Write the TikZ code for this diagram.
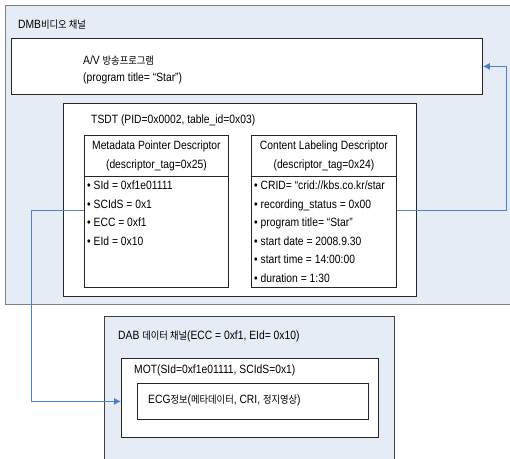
\documentclass[tikz,border=0pt]{standalone}
\usepackage{fontspec}
\setmainfont{Liberation Sans}[FakeStretch=0.86]
\newfontfamily\kr[Scale=0.86,FakeStretch=0.9]{Noto Sans CJK KR}
\usetikzlibrary{arrows.meta}

\definecolor{chanblue}{RGB}{230,236,246}
\definecolor{linkblue}{RGB}{79,129,200}
\newcommand{\lbfont}{\fontsize{12}{18.6}\selectfont}

\tikzset{
  chan/.style={draw=black!50, fill=chanblue, line width=1.2pt, anchor=north west, inner sep=0pt},
  box/.style={draw=black!85, fill=white, line width=0.8pt, anchor=north west, inner sep=0pt, font=\lbfont},
  lbl/.style={anchor=west, inner sep=0pt, font=\lbfont},
  items/.style={anchor=north west, inner sep=0pt, align=left, font=\lbfont},
  link/.style={draw=linkblue, line width=0.9pt, -{Latex[length=7pt,width=7pt]}}
}

\begin{document}
\begin{tikzpicture}[x=1pt,y=-1pt]
\useasboundingbox (0,0) rectangle (510,458);

% DMB channel
\node[chan, minimum width=507, minimum height=299] (dmb) at (5,5) {};
\node[lbl] (dmblbl) at (18,25) {DMB{\kr 비디오 채널}};

\node[box, minimum width=471, minimum height=56] (av) at (11,38) {};
\node[lbl] (avname) at (83,61) {A/V {\kr 방송프로그램}};
\node[lbl] (avtitle) at (83,78) {(program title= “Star”)};

% TSDT and its two descriptors
\node[box, minimum width=353, minimum height=193] (tsdt) at (63,103) {};
\node[lbl] (tsdtlbl) at (91,120) {TSDT (PID=0x0002, table\_id=0x03)};

\node[box, minimum width=144, minimum height=41, align=center] (metahead) at (84,135)
  {Metadata Pointer Descriptor\\(descriptor\_tag=0x25)};
\node[box, minimum width=144, minimum height=111] (metabody) at (84,176) {};
\node[items] (metalist) at (87,180.5)
  {• SId = 0xf1e01111\\• SCIdS = 0x1\\• ECC = 0xf1\\• EId = 0x10};

\node[box, minimum width=145, minimum height=41, align=center] (cldhead) at (251,135)
  {Content Labeling Descriptor\\(descriptor\_tag=0x24)};
\node[box, minimum width=145, minimum height=111] (cldbody) at (251,176) {};
\node[items] (cldlist) at (254,180.5)
  {• CRID= “crid://kbs.co.kr/star\\• recording\_status = 0x00\\• program title= “Star”\\%
   • start date = 2008.9.30\\• start time = 14:00:00\\• duration = 1:30};

% DAB data channel
\node[chan, draw=black!75, line width=0.8pt, minimum width=290, minimum height=146] (dab) at (104,316) {};
\node[lbl] (dablbl) at (118,336) {DAB {\kr 데이터 채널}(ECC = 0xf1, EId= 0x10)};

\node[box, minimum width=257, minimum height=79] (mot) at (121,358) {};
\node[lbl] (motlbl) at (134,370) {MOT(SId=0xf1e01111, SCIdS=0x1)};

\node[box, minimum width=231, minimum height=36] (ecg) at (137,383) {};
\node[lbl] (ecglbl) at (148,400) {ECG{\kr 정보}({\kr 메타데이터}, CRI, {\kr 정지영상})};

% links
\coordinate (lbend) at (31,210);
\coordinate (rbend) at (506,210);
\draw[link] (lbend -| metabody.west) -- (lbend) |- (mot.west |- ecg.center);
\draw[link] (rbend -| cldbody.east) -- (rbend) |- (av.east);
\end{tikzpicture}
\end{document}
